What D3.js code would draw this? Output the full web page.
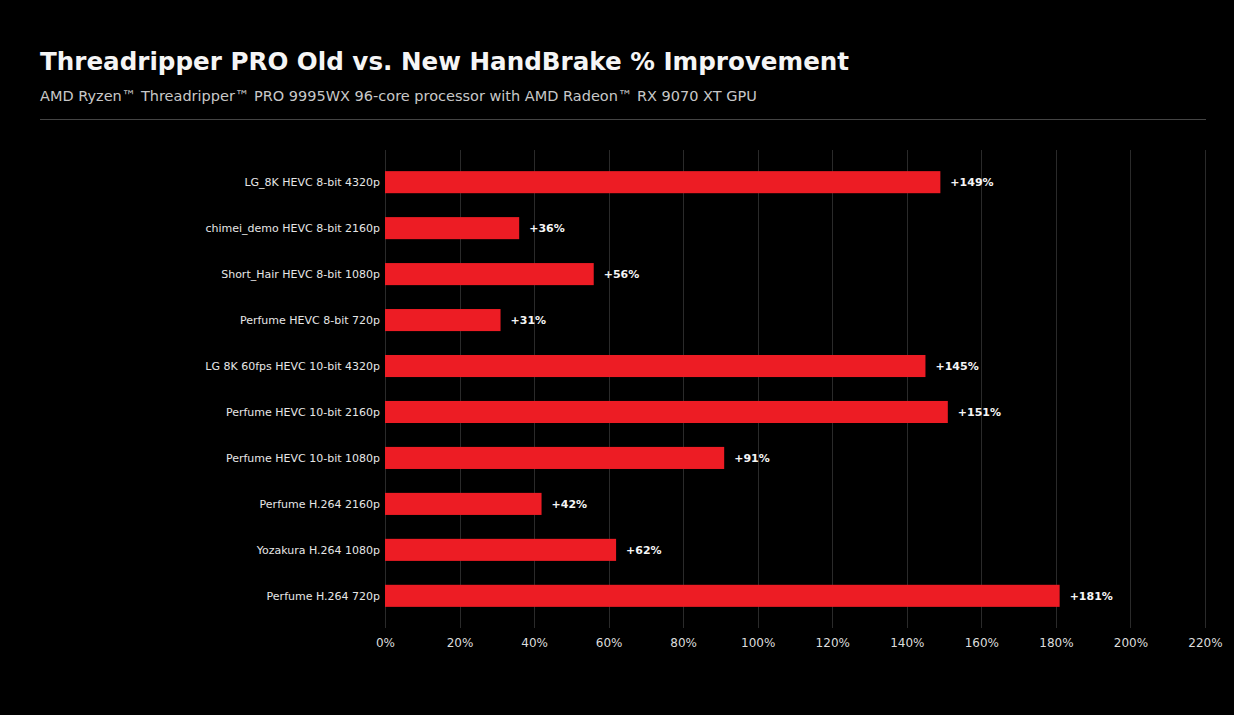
<!DOCTYPE html>
<html>
<head>
<meta charset="utf-8">
<script src="https://cdn.jsdelivr.net/npm/d3@7"></script>
<style>
  html, body { margin: 0; padding: 0; background: #000; }
  #chart { width: 1234px; height: 715px; }
  text { font-family: "DejaVu Sans", sans-serif; }
</style>
</head>
<body>
<div id="chart"></div>
<script>
// --- DATA ---
const categories = [
    "LG_8K HEVC 8-bit 4320p",
    "chimei_demo HEVC 8-bit 2160p",
    "Short_Hair HEVC 8-bit 1080p",
    "Perfume HEVC 8-bit 720p",
    "LG 8K 60fps HEVC 10-bit 4320p",
    "Perfume HEVC 10-bit 2160p",
    "Perfume HEVC 10-bit 1080p",
    "Perfume H.264 2160p",
    "Yozakura H.264 1080p",
    "Perfume H.264 720p"
];
const improvement = [149, 36, 56, 31, 145, 151, 91, 42, 62, 181];
const xTicks = [0, 20, 40, 60, 80, 100, 120, 140, 160, 180, 200, 220];

(function () {
    'use strict';

    const W = 1234, H = 715;
    const plot = { left: 385, right: 1205, top: 150, bottom: 628 };

    const svg = d3.select("#chart").append("svg")
        .attr("width", W).attr("height", H);

    svg.append("rect").attr("width", W).attr("height", H).attr("fill", "#000");

    // Header
    svg.append("text")
        .attr("x", 40).attr("y", 70)
        .attr("fill", "#f5f5f5")
        .style("font-size", "24.6px").style("font-weight", "bold")
        .text("Threadripper PRO Old vs. New HandBrake % Improvement");
    svg.append("text")
        .attr("x", 40).attr("y", 101)
        .attr("fill", "#c8c8c8")
        .style("font-size", "14.5px")
        .text("AMD Ryzen\u2122 Threadripper\u2122 PRO 9995WX 96-core processor with AMD Radeon\u2122 RX 9070 XT GPU");
    svg.append("line")
        .attr("x1", 40).attr("x2", 1206).attr("y1", 119.5).attr("y2", 119.5)
        .attr("stroke", "#444").attr("stroke-width", 1);

    // Scales
    const x = d3.scaleLinear().domain([0, 220]).range([plot.left, plot.right]);
    const y = d3.scaleBand().domain(categories)
        .range([plot.top, plot.bottom])
        .paddingInner(0.52).paddingOuter(0.46);

    // Grid
    svg.append("g").selectAll("line").data(xTicks).enter().append("line")
        .attr("x1", d => Math.round(x(d)) + 0.5).attr("x2", d => Math.round(x(d)) + 0.5)
        .attr("y1", plot.top).attr("y2", plot.bottom)
        .attr("stroke", "#2a2a2a").attr("stroke-width", 1);

    // X axis
    const xAxis = svg.append("g")
        .attr("transform", `translate(0,${plot.bottom})`)
        .call(d3.axisBottom(x).tickValues(xTicks).tickFormat(d => d + "%").tickSize(0).tickPadding(10));
    xAxis.select(".domain").remove();
    xAxis.selectAll("text")
        .attr("fill", "#dcdcdc")
        .style("font-size", "12px")
        .style("font-family", "DejaVu Sans, sans-serif");

    // Y labels
    svg.append("g").selectAll("text").data(categories).enter().append("text")
        .attr("x", plot.left - 5)
        .attr("y", d => y(d) + y.bandwidth() / 2)
        .attr("dy", "0.35em")
        .attr("text-anchor", "end")
        .attr("fill", "#e6e6e6")
        .style("font-size", "11px")
        .text(d => d);

    // Bars
    const rows = categories.map((c, i) => ({ name: c, value: improvement[i] }));
    svg.append("g").selectAll("rect").data(rows).enter().append("rect")
        .attr("x", x(0))
        .attr("y", d => y(d.name))
        .attr("width", d => x(d.value) - x(0))
        .attr("height", y.bandwidth())
        .attr("fill", "#ED1C24");

    // Value labels
    svg.append("g").selectAll("text").data(rows).enter().append("text")
        .attr("x", d => x(d.value) + 10)
        .attr("y", d => y(d.name) + y.bandwidth() / 2)
        .attr("dy", "0.35em")
        .attr("fill", "#f5f5f5")
        .style("font-size", "11px").style("font-weight", "bold")
        .text(d => "+" + d.value + "%");
})();
</script>
</body>
</html>
